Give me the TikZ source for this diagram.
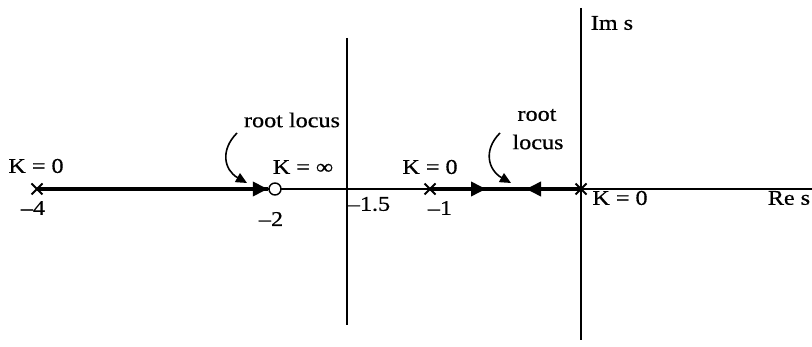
\documentclass[tikz,border=0pt]{standalone}
\usepackage{fontspec}
\setmainfont{Liberation Serif}[FakeStretch=1.15,FakeBold=0.6]
\usetikzlibrary{arrows.meta,shapes.misc}
\begin{document}
\begin{tikzpicture}[x=1pt,y=-1pt,
  lbl/.style={inner sep=0pt, font=\fontsize{21}{24}\selectfont},
  pole/.style={cross out, draw, line width=2pt, minimum size=9pt, inner sep=0pt},
  zero/.style={circle, draw, line width=1.4pt, fill=white, minimum size=12pt, inner sep=0pt},
  axis/.style={line width=1.3pt},
  locus/.style={line width=3.6pt},
  tri/.style={-{Triangle[length=15pt,width=14pt]}, line width=3.6pt, shorten >=0pt},
  callout/.style={line width=1.6pt, -{Triangle[length=11pt,width=10pt]}}]
\useasboundingbox (0,0) rectangle (812,347);
% axes
\coordinate (rl) at (37,189);
\coordinate (rr) at (812,189);
\coordinate (imt) at (581,8);
\coordinate (imb) at (581,340);
\coordinate (vt) at (347,38);
\coordinate (vb) at (347,325);
\draw[axis] (rl) -- (rr);
\draw[axis] (imt) -- (imb);
\draw[line width=2.6pt] (vt) -- (vb);
% poles and zero
\node[pole] (p4) at (37,189) {};
\node[zero] (z2) at (275,189) {};
\node[pole] (p1) at (430,189) {};
\node[pole] (p0) at (581,189) {};
% locus segments
\draw[locus] (p4.center) -- (z2.west);
\draw[tri] (p4.center) -- ([xshift=-0.5pt]z2.west);
\draw[locus] (p1.center) -- (p0.center);
\coordinate (a1) at (486,189);
\coordinate (a2) at (526,189);
\draw[tri] (p1.center) -- (a1);
\draw[tri] (p0.center) -- (a2);
% labels
\node[lbl] (k4) at (36,166) {K = 0};
\node[lbl] (m4) at (33,208) {–4};
\node[lbl] (kinf) at (303,167) {K = ∞};
\node[lbl] (m2) at (271,219) {–2};
\node[lbl] (rl1) at (292,120) {root locus};
\node[lbl] (m15) at (369,204) {–1.5};
\node[lbl] (k1) at (430,167) {K = 0};
\node[lbl] (m1) at (440,208) {–1};
\node[lbl] (rl2a) at (537,115) {root};
\node[lbl] (rl2b) at (538,142) {locus};
\node[lbl] (k0) at (620,198) {K = 0};
\node[lbl] (ims) at (612,23) {Im s};
\node[lbl] (res) at (789,198) {Re s};
% callout arrows
\coordinate (c1) at (247,183);
\coordinate (c2) at (511,183);
\draw[callout] (237,133) .. controls (220,150) and (224,170) .. (c1);
\draw[callout] (500,133) .. controls (483,150) and (488,170) .. (c2);
\end{tikzpicture}
\end{document}
